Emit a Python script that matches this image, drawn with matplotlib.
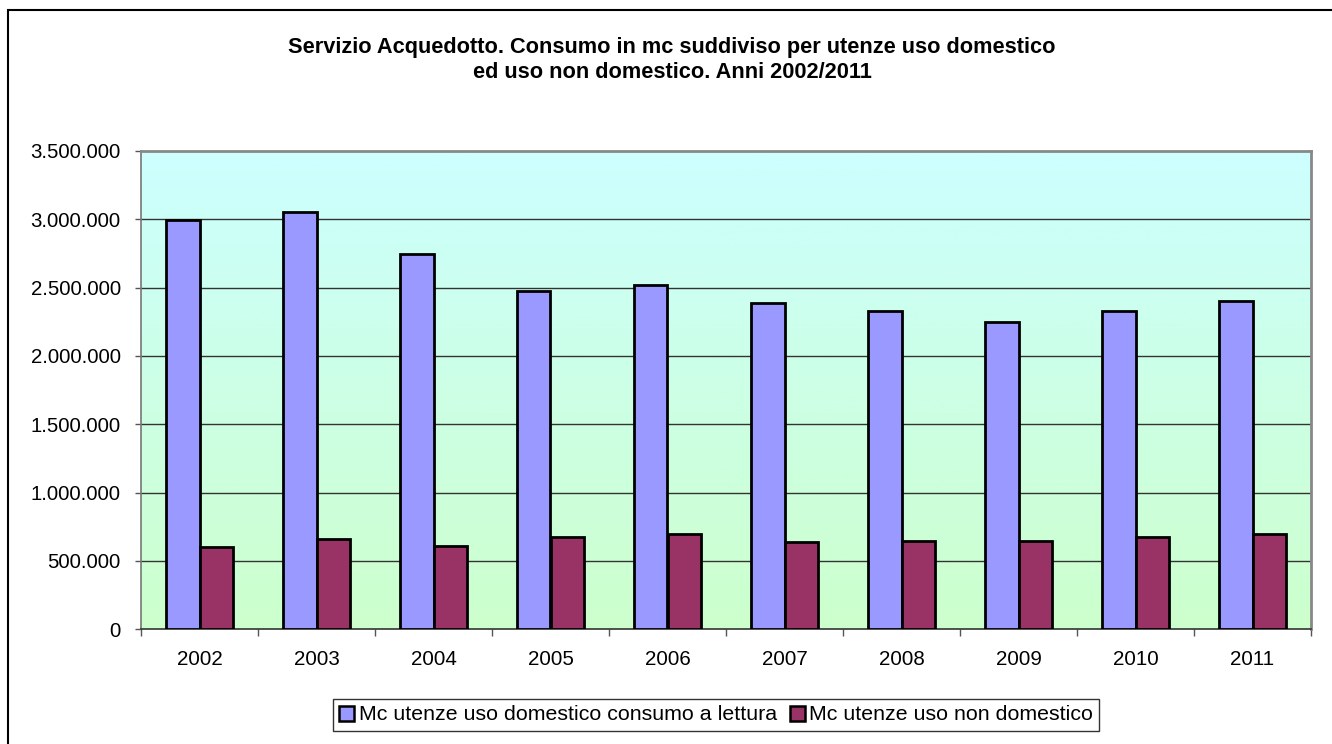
import matplotlib
matplotlib.use("Agg")
import matplotlib.pyplot as plt
import matplotlib.patches as mpatches
from matplotlib.ticker import FuncFormatter, FixedLocator
import numpy as np

years = ["2002", "2003", "2004", "2005", "2006", "2007", "2008", "2009", "2010", "2011"]
domestico = [2995000, 3050000, 2745000, 2475000, 2520000, 2390000, 2330000, 2250000, 2325000, 2405000]
non_domestico = [605000, 660000, 612000, 673000, 698000, 642000, 645000, 646000, 678000, 698000]
series_labels = ["Mc utenze uso domestico consumo a lettura", "Mc utenze uso non domestico"]
title = "Servizio Acquedotto. Consumo in mc suddiviso per utenze uso domestico\ned uso non domestico. Anni 2002/2011"

plt.rcParams['font.family'] = ['Liberation Sans', 'DejaVu Sans']

W, H = 1332, 744
fig = plt.figure(figsize=(W / 100, H / 100), dpi=100)
fig.patch.set_facecolor("white")

left, right, top, bottom = 141, 1311, 150.8, 629.3
ax = fig.add_axes([left / W, 1 - bottom / H, (right - left) / W, (bottom - top) / H])

n = len(years)
x = np.arange(n)
ymax = 3500000

# gradient background
grad = np.linspace(0, 1, 256).reshape(-1, 1)
c_top = np.array([0xCC, 0xFF, 0xFF]) / 255
c_bot = np.array([0xCC, 0xFF, 0xCC]) / 255
img = c_top[None, None, :] * (1 - grad[:, :, None]) + c_bot[None, None, :] * grad[:, :, None]
ax.imshow(img, aspect='auto', extent=[-0.5, n - 0.5, 0, ymax], origin='upper', zorder=0)

w = 0.2857
ax.bar(x - w / 2, domestico, width=w, color="#9999FF", edgecolor="black", linewidth=2, zorder=3,
       label=series_labels[0])
ax.bar(x + w / 2, non_domestico, width=w, color="#993366", edgecolor="black", linewidth=2, zorder=3,
       label=series_labels[1])

ax.set_xlim(-0.5, n - 0.5)
ax.set_ylim(0, ymax)
ax.set_yticks(np.arange(0, ymax + 1, 500000))
ax.yaxis.set_major_formatter(FuncFormatter(lambda v, p: f"{int(v):,}".replace(",", ".")))
for yv in np.arange(500000, ymax, 500000):
    ax.axhline(yv, color="#333333", linewidth=1, zorder=1)

ax.xaxis.set_major_locator(FixedLocator(np.arange(-0.5, n, 1.0)))
ax.xaxis.set_minor_locator(FixedLocator(x))
ax.set_xticklabels([], minor=False)
ax.set_xticklabels(years, minor=True)
ax.tick_params(axis='x', which='major', length=5, width=1, color="#555555", direction='out')
ax.tick_params(axis='x', which='minor', length=0, pad=15, labelsize=14.8)
ax.tick_params(axis='y', length=4.3, width=1, color="#555555", direction='out', pad=10.3, labelsize=14.7)

for s in ['top', 'right']:
    ax.spines[s].set_color("#888888")
    ax.spines[s].set_linewidth(2)
ax.spines['left'].set_color("#777777")
ax.spines['left'].set_linewidth(1.2)
ax.spines['bottom'].set_color("#333333")
ax.spines['bottom'].set_linewidth(1.2)

fig.text(672 / W, 1 - 60 / H, title, ha='center', va='center', fontsize=15.7, fontweight='bold',
         multialignment='center', linespacing=1.28)

handles = [mpatches.Patch(facecolor="#9999FF", edgecolor="black", linewidth=1.8),
           mpatches.Patch(facecolor="#993366", edgecolor="black", linewidth=1.8)]
leg = fig.legend(handles, series_labels, loc='center', bbox_to_anchor=(716 / W, 1 - 715 / H),
                 ncol=2, fontsize=15.4, frameon=True, fancybox=False, handlelength=0.7,
                 handleheight=0.7, handletextpad=0.2, columnspacing=0.6, borderpad=0.3,
                 borderaxespad=0)
leg.get_frame().set_edgecolor("black")
leg.get_frame().set_linewidth(1)

# outer chart border (right/bottom edges lie outside the image)
fig.patches.append(mpatches.Rectangle((7.5 / W, -0.05), 1.2, (H - 9.5) / H + 0.05, transform=fig.transFigure,
                                      fill=False, edgecolor="black", linewidth=1.5))

fig.savefig("out.png", dpi=100)
